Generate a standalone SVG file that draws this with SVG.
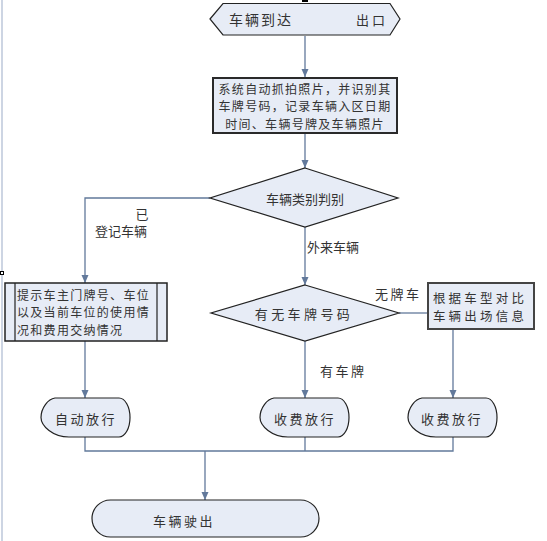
<svg xmlns="http://www.w3.org/2000/svg" width="547" height="541" viewBox="0 0 547 541">
<style>
.sh{fill:#e7ecf6;stroke:#222;stroke-width:1.2}
.bx{fill:#e7ecf6;stroke:#2a2a2a;stroke-width:2}
.cn{fill:none;stroke:#62799b;stroke-width:1.3}
.t{font-family:"Noto Sans CJK SC","Noto Sans",sans-serif;font-size:13px;fill:#333;dominant-baseline:central}
.s{font-size:12px;letter-spacing:1.3px}
.m{text-anchor:middle}
.sp{letter-spacing:2.5px}
</style>
<defs>
<marker id="ar" markerWidth="8" markerHeight="8" refX="8" refY="3.5" orient="auto" markerUnits="userSpaceOnUse">
<path d="M0,0 L8,3.5 L0,7 Z" fill="#62799b"/>
</marker>
<path id="disp" d="M14,0 H78 A11,19.5 0 0 1 78,39 H28 C12,39 0,28 0,19.5 C0,10 7,1 14,0 Z"/>
</defs>
<rect width="547" height="541" fill="#fff"/>
<line x1="2" y1="0" x2="2" y2="541" stroke="#cdd5e3" stroke-width="2"/>
<rect x="0.5" y="271.5" width="3" height="3" fill="#fff" stroke="#000" stroke-width="1"/>
<rect x="302" y="0" width="6" height="2" fill="#000"/>

<g id="connectors">
<path class="cn" d="M305,36 V77" marker-end="url(#ar)"/>
<path class="cn" d="M305,133 V168" marker-end="url(#ar)"/>
<path class="cn" d="M210,198 H85 V283" marker-end="url(#ar)"/>
<path class="cn" d="M305,227 V285" marker-end="url(#ar)"/>
<path class="cn" d="M399,313 H428"/>
<path class="cn" d="M453,329 V398" marker-end="url(#ar)"/>
<path class="cn" d="M305,341 V398" marker-end="url(#ar)"/>
<path class="cn" d="M85,341 V398" marker-end="url(#ar)"/>
<path class="cn" d="M85,437 V451 H453 V437"/>
<path class="cn" d="M305,437 V451"/>
<path class="cn" d="M205,451 V500" marker-end="url(#ar)"/>
<text class="t" x="142" y="213" text-anchor="middle">已</text>
<text class="t" x="95" y="230">登记车辆</text>
<text class="t" x="307" y="246">外来车辆</text>
<text class="t sp" x="375" y="293">无牌车</text>
<text class="t sp" x="320" y="370">有车牌</text>
</g>

<g id="start">
<path class="sh" d="M210,19 L223,3.5 H390 L400,19 L390,35 H223 Z"/>
<text class="t" x="229" y="19" style="font-size:14px;letter-spacing:2px">车辆到达</text>
<text class="t" x="356" y="19" xml:space="preserve">出 口</text>
</g>

<g id="capture">
<rect class="bx" x="213" y="78" width="184" height="55"/>
<text class="t s m" x="305" y="88">系统自动抓拍照片，并识别其</text>
<text class="t s m" x="305" y="105.5">车牌号码，记录车辆入区日期</text>
<text class="t s m" x="305" y="123">时间、车辆号牌及车辆照片</text>
</g>

<g id="classify">
<path class="sh" d="M305,168 L398,198 L305,227 L210,198 Z"/>
<text class="t m" x="305" y="198">车辆类别判别</text>
</g>

<g id="registered">
<rect class="sh" x="5" y="283" width="162" height="58" style="stroke-width:1.5"/>
<line x1="15" y1="283" x2="15" y2="341" stroke="#222" stroke-width="1.2"/>
<line x1="157" y1="283" x2="157" y2="341" stroke="#222" stroke-width="1.2"/>
<text class="t s" x="17" y="294">提示车主门牌号、车位</text>
<text class="t s" x="17" y="311.5">以及当前车位的使用情</text>
<text class="t s" x="17" y="329">况和费用交纳情况</text>
</g>

<g id="plate">
<path class="sh" d="M305,285 L399,313 L305,341 L211,313 Z"/>
<text class="t m" x="304" y="313" style="letter-spacing:3.4px">有无车牌号码</text>
</g>

<g id="compare">
<rect class="bx" x="428" y="283" width="106" height="46" style="stroke:#444"/>
<text class="t m" x="480" y="297" style="font-size:12.5px;letter-spacing:3.2px">根据车型对比</text>
<text class="t m" x="480" y="315.5" style="font-size:12.5px;letter-spacing:3.2px">车辆出场信息</text>
</g>

<g id="auto">
<use href="#disp" class="sh" x="41" y="398"/>
<text class="t m sp" x="86" y="418">自动放行</text>
</g>

<g id="charge1">
<use href="#disp" class="sh" x="260" y="398"/>
<text class="t m sp" x="305" y="418">收费放行</text>
</g>

<g id="charge2">
<use href="#disp" class="sh" x="408" y="398"/>
<text class="t m sp" x="452" y="418">收费放行</text>
</g>

<g id="exit">
<rect class="sh" x="92" y="500" width="227" height="37" rx="18.5"/>
<text class="t m sp" x="184" y="520">车辆驶出</text>
</g>
</svg>
